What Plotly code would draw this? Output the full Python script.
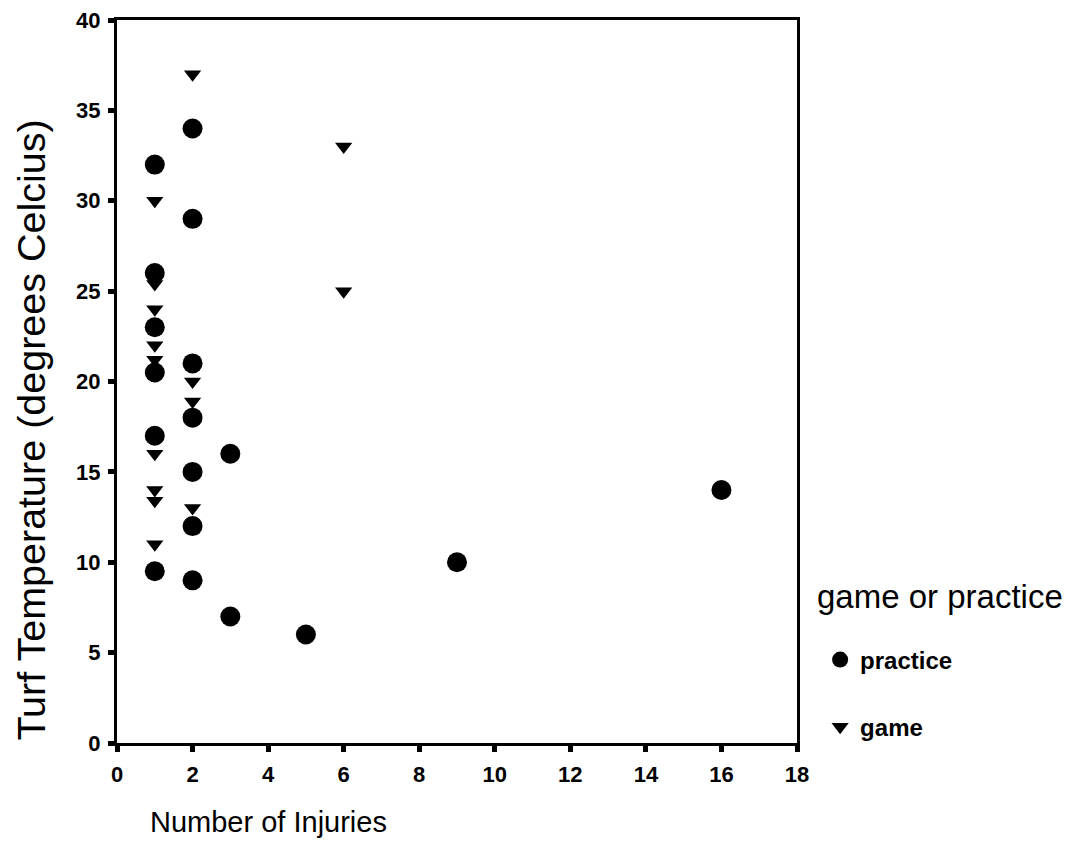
import plotly.graph_objects as go

# practice (circles)
practice_x = [1, 1, 1, 1, 1, 1, 2, 2, 2, 2, 2, 2, 2, 3, 3, 5, 9, 16]
practice_y = [32, 26, 23, 20.5, 17, 9.5, 34, 29, 21, 18, 15, 12, 9, 16, 7, 6, 10, 14]

# game (triangles)
game_x = [1, 1, 1, 1, 1, 1, 1, 1, 1, 2, 2, 2, 2, 6, 6]
game_y = [30, 25.4, 24, 22, 21.2, 16, 14, 13.4, 11, 37, 20, 18.9, 13, 33, 25]

x_ticks = [0, 2, 4, 6, 8, 10, 12, 14, 16, 18]
y_ticks = [0, 5, 10, 15, 20, 25, 30, 35, 40]

FONT = "Liberation Sans, Arial, sans-serif"

fig = go.Figure()
fig.add_trace(go.Scatter(
    x=practice_x, y=practice_y, mode="markers", name="<b>practice</b>",
    legendgroup="p",
    marker=dict(symbol="circle", size=20, color="black"),
))
fig.add_trace(go.Scatter(
    x=game_x, y=game_y, mode="markers", name="<b>game</b>",
    legendgroup="g",
    marker=dict(symbol="triangle-down", size=15, color="black"),
))

axis_common = dict(
    showline=True, linecolor="black", linewidth=3, mirror=True,
    ticks="outside", ticklen=6, tickwidth=5, tickcolor="black",
    showgrid=False, zeroline=False, automargin=False,
    ticklabeloverflow="allow",
    tickfont=dict(family=FONT, size=22, color="black"),
)

fig.update_layout(
    width=1073, height=867,
    paper_bgcolor="white", plot_bgcolor="white",
    margin=dict(l=109, r=284, t=12, b=132),
    font=dict(family=FONT, color="black"),
    xaxis=dict(range=[0, 18], tickvals=x_ticks, ticktext=[f"<b>{v}</b>" for v in x_ticks],
               ticklabelstandoff=4, **axis_common),
    yaxis=dict(range=[0, 40], tickvals=y_ticks, ticktext=[f"<b>{v}</b>" for v in y_ticks],
               ticklabelstandoff=3, **axis_common),
    showlegend=True,
    legend=dict(
        x=1.034, y=0.146, xanchor="left", yanchor="top",
        font=dict(family=FONT, size=24, color="black"),
        tracegroupgap=33,
        itemsizing="trace",
    ),
    annotations=[
        dict(text="game or practice", xref="paper", yref="paper",
             x=1.0265, y=0.202, xanchor="left", yanchor="middle", showarrow=False,
             font=dict(family=FONT, size=33, color="black")),
        dict(text="Number of Injuries", xref="paper", yref="paper",
             x=0.0456, y=-0.109, xanchor="left", yanchor="middle", showarrow=False,
             font=dict(family=FONT, size=29, color="black")),
        dict(text="Turf Temperature (degrees Celcius)", xref="paper", yref="paper",
             x=-0.127, y=0.433, xanchor="center", yanchor="middle", showarrow=False, textangle=-90,
             font=dict(family=FONT, size=39.5, color="black")),
    ],
)

fig.write_html("out.html")
